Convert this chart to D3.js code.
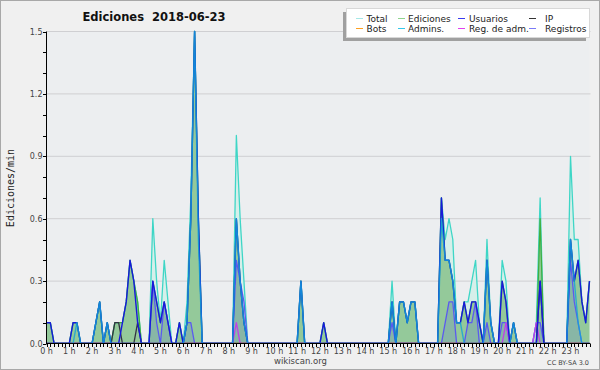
<!DOCTYPE html>
<html><head><meta charset="utf-8">
<script src="https://cdn.jsdelivr.net/npm/d3@7"></script>
<style>body{margin:0;background:#f1f1f1}svg{display:block}</style>
</head><body>
<svg id="c" width="600" height="370"></svg>
<script>
// 10-minute bins, 0h..23h50 (144 points), values in edits/min
const hours = d3.range(0, 24);
const hourLabels = hours.map(h => h + " h");
const yTicks = [0, 0.3, 0.6, 0.9, 1.2, 1.5];

const total = [
 0.1,0.1,0,0,0,0,0,0.1,0.1,0,0,0,
 0,0.1,0.2,0,0.1,0,0.1,0.1,0.1,0.2,0.4,0.3,
 0.2,0,0,0,0.6,0.3,0.1,0.4,0.2,0,0,0.1,
 0,0.2,0.7,1.5,0.6,0,0,0,0,0,0,0,
 0,0,1.0,0.6,0.3,0,0,0,0,0,0,0,
 0,0,0,0,0,0,0,0.3,0,0,0,0,
 0,0.1,0,0,0,0,0,0,0,0,0,0,
 0,0,0,0,0,0,0,0.3,0,0.2,0.2,0.1,
 0.2,0.2,0,0,0,0,0,0,0.7,0.5,0.6,0.5,
 0.1,0.1,0.2,0.2,0.3,0.4,0.1,0,0.5,0.1,0,0,
 0.4,0.3,0,0.1,0,0,0,0,0,0.1,0.7,0,
 0,0,0,0,0,0,0.9,0.5,0.5,0.2,0.1,0.3];
const ediciones = [
 0.1,0.1,0,0,0,0,0,0.1,0.1,0,0,0,
 0,0.1,0.2,0,0.1,0,0.1,0.1,0.1,0.2,0.4,0.3,
 0.2,0,0,0,0.3,0.2,0.1,0.2,0.1,0,0,0.1,
 0,0.1,0.6,1.5,0.6,0,0,0,0,0,0,0,
 0,0,0.6,0.3,0.1,0,0,0,0,0,0,0,
 0,0,0,0,0,0,0,0.3,0,0,0,0,
 0,0.1,0,0,0,0,0,0,0,0,0,0,
 0,0,0,0,0,0,0,0.2,0,0.2,0.2,0.1,
 0.2,0.2,0,0,0,0,0,0,0.7,0.4,0.4,0.3,
 0.1,0.1,0.2,0.1,0.2,0.2,0.1,0,0.4,0.1,0,0,
 0.3,0.2,0,0.1,0,0,0,0,0,0,0.6,0,
 0,0,0,0,0,0,0.5,0.3,0.4,0.2,0.1,0.3];
const usuarios = [
 0.1,0.1,0,0,0,0,0,0.1,0.1,0,0,0,
 0,0.1,0.2,0,0.1,0,0,0,0.1,0.2,0.4,0.3,
 0.1,0,0,0,0.3,0.2,0.1,0.2,0.1,0,0,0.1,
 0,0.1,0.6,1.5,0.6,0,0,0,0,0,0,0,
 0,0,0.6,0.3,0.1,0,0,0,0,0,0,0,
 0,0,0,0,0,0,0,0.3,0,0,0,0,
 0,0.1,0,0,0,0,0,0,0,0,0,0,
 0,0,0,0,0,0,0,0.2,0,0.2,0.2,0.1,
 0.2,0.2,0,0,0,0,0,0,0.7,0.4,0.4,0.3,
 0.1,0.1,0.2,0.1,0.2,0.2,0.1,0,0.4,0.1,0,0,
 0.3,0.2,0,0.1,0,0,0,0,0,0,0.3,0,
 0,0,0,0,0,0,0.5,0.3,0.4,0.2,0.1,0.3];
const ip = [
 0,0,0,0,0,0,0,0,0,0,0,0,
 0,0,0,0,0,0,0.1,0.1,0,0,0,0,
 0.1,0,0,0,0,0,0,0,0,0,0,0,
 0,0,0,0,0,0,0,0,0,0,0,0,
 0,0,0,0,0,0,0,0,0,0,0,0,
 0,0,0,0,0,0,0,0,0,0,0,0,
 0,0,0,0,0,0,0,0,0,0,0,0,
 0,0,0,0,0,0,0,0,0,0,0,0,
 0,0,0,0,0,0,0,0,0,0,0,0,
 0,0,0,0,0,0,0,0,0,0,0,0,
 0,0,0,0,0,0,0,0,0,0,0.3,0,
 0,0,0,0,0,0,0,0,0,0,0,0];
const bots = [
 0,0,0,0,0,0,0,0,0,0,0,0, 0,0,0,0,0,0,0,0,0,0,0,0,
 0,0,0,0,0,0,0,0,0,0,0,0, 0,0,0,0,0,0,0,0,0,0,0,0,
 0,0,0,0,0,0,0,0,0,0,0,0, 0,0,0,0,0,0,0,0,0,0,0,0,
 0,0,0,0,0,0,0,0,0,0,0,0, 0,0,0,0,0,0,0,0,0,0,0,0,
 0,0,0,0,0,0,0,0,0,0,0,0, 0,0,0,0,0,0,0,0,0,0,0,0,
 0,0,0,0,0,0,0,0,0,0,0,0, 0,0,0,0,0,0,0,0,0,0,0,0];
const admins = [
 0,0,0,0,0,0,0,0,0.1,0,0,0,
 0,0.1,0.2,0,0.1,0,0,0,0,0,0,0,
 0,0,0,0,0,0,0,0,0,0,0,0,
 0,0.1,0.6,1.5,0.5,0,0,0,0,0,0,0,
 0,0,0.6,0.3,0.1,0,0,0,0,0,0,0,
 0,0,0,0,0,0,0,0.3,0,0,0,0,
 0,0,0,0,0,0,0,0,0,0,0,0,
 0,0,0,0,0,0,0,0.2,0,0.2,0.2,0.1,
 0.2,0.2,0,0,0,0,0,0,0.6,0.4,0.4,0.3,
 0.1,0.1,0,0,0,0,0,0,0.4,0.1,0,0,
 0,0,0,0.1,0,0,0,0,0,0,0,0,
 0,0,0,0,0,0,0.5,0.3,0.1,0,0,0];
const regAdm = [
 0,0,0,0,0,0,0,0,0,0,0,0,
 0,0,0,0,0,0,0,0,0,0,0,0,
 0,0,0,0,0,0,0,0,0,0,0,0,
 0,0,0,0,0,0,0,0,0,0,0,0,
 0,0,0.1,0,0,0,0,0,0,0,0,0,
 0,0,0,0,0,0,0,0,0,0,0,0,
 0,0,0,0,0,0,0,0,0,0,0,0,
 0,0,0,0,0,0,0,0,0,0,0,0,
 0,0,0,0,0,0,0,0,0,0,0,0,
 0,0,0,0,0,0,0,0,0,0,0,0,
 0,0.1,0,0,0,0,0,0,0,0.1,0,0,
 0,0,0,0,0,0,0,0,0,0,0,0];
const registros = [
 0,0,0,0,0,0,0,0,0,0,0,0,
 0,0,0,0,0,0,0,0,0,0,0,0,
 0,0,0,0,0.3,0.1,0,0.2,0.1,0,0,0,
 0,0.1,0.1,0,0,0,0,0,0,0,0,0,
 0,0,0.4,0.3,0.2,0,0,0,0,0,0,0,
 0,0,0,0,0,0,0,0,0,0,0,0,
 0,0,0,0,0,0,0,0,0,0,0,0,
 0,0,0,0,0,0,0,0.1,0,0,0,0,
 0,0,0,0,0,0,0,0,0,0.1,0.2,0.2,
 0,0,0,0.1,0.1,0.2,0,0,0.1,0,0,0,
 0.1,0.1,0,0,0,0,0,0,0,0.1,0.1,0,
 0,0,0,0,0,0,0.4,0.2,0.1,0,0,0];

const legendNames = ["Total","Ediciones","Usuarios","IP","Bots","Admins.","Reg. de adm.","Registros"];
const legendColors = ["#a6e8e6","#8fd48f","#3a3af0","#333333","#ffa020","#33c8ea","#e040f0","#7a7af8"];

const svg = d3.select("#c");
const W = 600, H = 370;
svg.append("rect").attr("x",0.5).attr("y",0.5).attr("width",W-1).attr("height",H-1)
  .attr("fill","#f0f0f0").attr("stroke","#a8a8a8");

const X0 = 46.5, X1 = 589.5, Y0 = 343.5, Y1 = 31.5;
const x = d3.scaleLinear().domain([0,143]).range([X0,X1]);
const y = d3.scaleLinear().domain([0,1.5]).range([Y0,Y1]);

svg.append("defs").append("clipPath").attr("id","plotclip").append("rect")
  .attr("x",X0).attr("y",Y1-3).attr("width",X1-X0+2).attr("height",Y0-Y1+3-0.6);

svg.append("rect").attr("x",X0).attr("y",Y1).attr("width",X1-X0).attr("height",Y0-Y1).attr("fill","#eceef0");

// gridlines
svg.append("g").selectAll("line").data(yTicks.filter(v=>v>0)).join("line")
  .attr("x1",X0).attr("x2",X1+1).attr("y1",d=>y(d)).attr("y2",d=>y(d))
  .attr("stroke","#cfcfd2").attr("stroke-width",1);

const area = data => d3.area().x((d,i)=>x(i)).y0(Y0).y1(d=>y(d))(data);
const line = data => d3.line().x((d,i)=>x(i)).y(d=>y(d))(data);

const plot = svg.append("g").attr("clip-path","url(#plotclip)");
plot.append("path").attr("d",area(total)).attr("fill","#d6efea");
plot.append("path").attr("d",area(ediciones)).attr("fill","#94c99a");
plot.append("path").attr("d",area(registros)).attr("fill","#6070d0").attr("fill-opacity",0.22);

const lines = [
  [total,"#3ed6c6",1.3,1],
  [ediciones,"#40b040",1.3,1],
  [bots,"#ffa020",1.3,1],
  [registros,"#5a5af0",1.3,1],
  [regAdm,"#c040e8",1.3,1],
  [ip,"#333344",1.3,1],
  [usuarios,"#1818dd",1.4,1],
  [admins,"#12a2d8",1.4,0.8]
];
lines.forEach(([d,c,w,o]) => plot.append("path").attr("d",line(d)).attr("fill","none")
  .attr("stroke",c).attr("stroke-width",w).attr("stroke-opacity",o).attr("stroke-linejoin","round"));

// axes
const ax = svg.append("g").attr("font-family","DejaVu Sans").attr("font-size",8).attr("fill","#333");
ax.append("line").attr("x1",X0).attr("x2",X0).attr("y1",Y1).attr("y2",Y0+0.5).attr("stroke","#000");
ax.append("line").attr("x1",X0).attr("x2",X1+0.5).attr("y1",Y0).attr("y2",Y0).attr("stroke","#000");
ax.append("g").selectAll("line").data(d3.range(0,15.5).map(v=>v/10)).join("line")
  .attr("x1",X0-3.5).attr("x2",X0).attr("y1",d=>Math.round(y(d))+0.5).attr("y2",d=>Math.round(y(d))+0.5).attr("stroke","#000");
ax.append("g").selectAll("text").data(yTicks).join("text")
  .attr("x",X0-4).attr("y",d=>y(d)+3).attr("text-anchor","end").attr("fill","#444")
  .text(d=>d.toFixed(1));
ax.append("g").selectAll("line").data(d3.range(0,144)).join("line")
  .attr("x1",d=>Math.round(x(d))+0.5).attr("x2",d=>Math.round(x(d))+0.5).attr("y1",Y0).attr("y2",Y0+3.5).attr("stroke","#000");
ax.append("g").selectAll("text").data(hours).join("text")
  .attr("x",d=>x(d*6)).attr("y",Y0+10).attr("text-anchor","middle").attr("fill","#444")
  .text((d,i)=>hourLabels[i]);

svg.append("text").attr("transform","translate(14,188) rotate(-90)").attr("text-anchor","middle")
  .attr("font-family","DejaVu Sans Mono").attr("font-size",10).attr("fill","#222").text("Ediciones/min");

svg.append("text").attr("x",154).attr("y",21).attr("text-anchor","middle")
  .attr("font-family","DejaVu Sans").attr("font-weight","bold").attr("font-size",11.5).attr("fill","#111")
  .style("white-space","pre").text("Ediciones  2018-06-23");

svg.append("text").attr("x",300.5).attr("y",364).attr("text-anchor","middle")
  .attr("font-family","DejaVu Sans").attr("font-size",8.5).attr("fill","#444").text("wikiscan.org");
svg.append("text").attr("x",589).attr("y",365).attr("text-anchor","end")
  .attr("font-family","DejaVu Sans").attr("font-size",6.5).attr("fill","#444").text("CC BY-SA 3.0");

// legend
const lg = svg.append("g");
lg.append("rect").attr("x",343).attr("y",12).attr("width",243).attr("height",29).attr("fill","#a0a0a0");
lg.append("rect").attr("x",346.5).attr("y",8.5).attr("width",243).attr("height",29).attr("fill","#fff").attr("stroke","#d8d8d8");
const colX = [356, 398, 458, 529];
const txtX = [366.5, 408, 469, 545];
legendNames.forEach((n,i) => {
  const c = i % 4, r = Math.floor(i/4);
  const yy = r ? 28.5 : 18.5;
  lg.append("line").attr("x1",colX[c]).attr("x2",colX[c]+7).attr("y1",yy).attr("y2",yy).attr("stroke",legendColors[i]).attr("stroke-width",1);
  lg.append("text").attr("x",txtX[c]).attr("y",yy+3.5).attr("font-family","DejaVu Sans").attr("font-size",9).attr("fill","#222").text(n);
});
</script>
</body></html>
